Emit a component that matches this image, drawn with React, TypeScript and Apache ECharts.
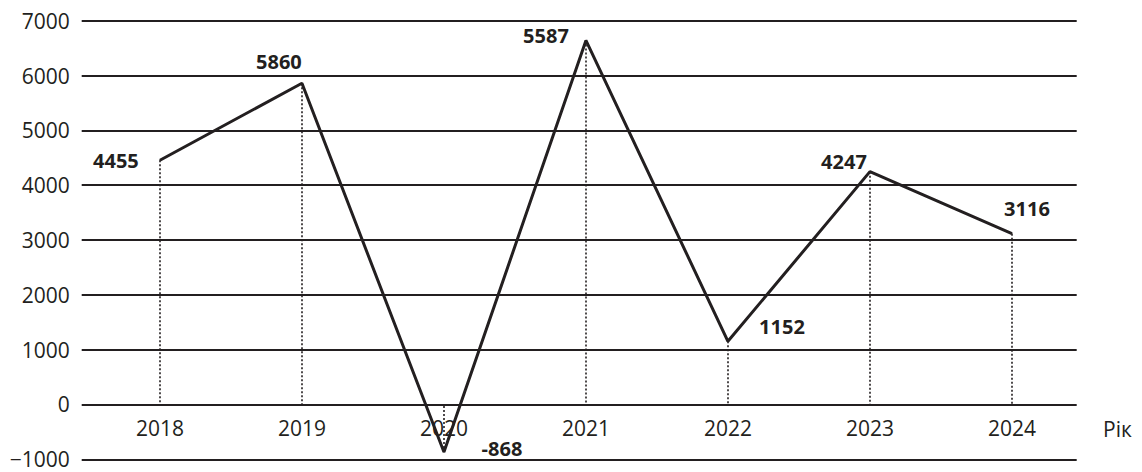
import React, { useEffect, useRef } from "react";
import * as echarts from "echarts";

const years = ["2018", "2019", "2020", "2021", "2022", "2023", "2024"];
// plotted positions
const values = [4455, 5860, -868, 6640, 1152, 4247, 3116];
// printed point labels
const valueLabels = ["4455", "5860", "-868", "5587", "1152", "4247", "3116"];
const yMin = -1000;
const yMax = 7000;
const yStep = 1000;
const xName = "Рік";

// layout: label centre offsets relative to each point (px)
const labelOffsets: [number, number][] = [
  [-44, 0],
  [-23, -22],
  [58, -4],
  [-40, -5],
  [54, -15],
  [-26, -10],
  [15, -25],
];

const INK = "#231f20";
const FONT = "'Open Sans', 'Noto Sans', sans-serif";
const W = 1142;
const H = 472;
const GRID = { left: 81.7, right: 65.3, top: 20.7, bottom: 12.7 };

export default function App() {
  const ref = useRef<HTMLDivElement>(null);

  useEffect(() => {
    document.body.style.margin = "0";
    if (!ref.current) return;
    const chart = echarts.init(ref.current, null, { renderer: "svg" });

    const idx = years.map((_, i) => i);
    const gridH = H - GRID.top - GRID.bottom;
    // move the x axis from the bottom edge up to the zero line
    const zeroOffset = -((0 - yMin) / (yMax - yMin)) * gridH;

    chart.setOption({
      animation: false,
      backgroundColor: "#ffffff",
      textStyle: { fontFamily: FONT },
      grid: { ...GRID, containLabel: false },
      graphic: [
        {
          type: "text",
          left: 1103,
          top: 418,
          style: {
            text: xName,
            fontFamily: FONT,
            fontSize: 21,
            fill: INK,
          },
        },
      ],
      xAxis: {
        type: "value",
        position: "bottom",
        offset: zeroOffset,
        min: -0.551,
        max: 6.456,
        axisLine: { show: false, onZero: false },
        axisTick: { show: false },
        splitLine: { show: false },
        axisLabel: {
          customValues: idx,
          formatter: (v: number) => years[Math.round(v)] ?? "",
          fontFamily: FONT,
          fontSize: 21,
          color: INK,
          margin: 13,
        },
      },
      yAxis: {
        type: "value",
        min: yMin,
        max: yMax,
        interval: yStep,
        axisLine: { show: false, onZero: false },
        axisTick: { show: false },
        splitLine: { show: true, lineStyle: { color: INK, width: 1.8 } },
        axisLabel: {
          formatter: (v: number) => String(v).replace("-", "\u2212"),
          fontFamily: FONT,
          fontSize: 21,
          color: INK,
          margin: 12,
        },
      },
      series: [
        {
          type: "line",
          data: values.map((v, i) => ({
            value: [i, v],
            label: { formatter: valueLabels[i], offset: labelOffsets[i] },
          })),
          symbol: "circle",
          symbolSize: 1,
          showSymbol: true,
          itemStyle: { color: INK },
          lineStyle: { color: INK, width: 3 },
          label: {
            show: true,
            position: "inside",
            align: "center",
            verticalAlign: "middle",
            fontFamily: FONT,
            fontWeight: "bold",
            fontSize: 20,
            color: INK,
          },
          markLine: {
            silent: true,
            symbol: ["none", "none"],
            label: { show: false },
            lineStyle: { color: INK, width: 1.6, type: [2, 2] },
            data: values.map((v, i) => [
              { coord: [i, v] },
              { coord: [i, 0] },
            ]),
          },
        },
      ],
    });

    return () => chart.dispose();
  }, []);

  return <div ref={ref} style={{ width: W, height: H }} />;
}
